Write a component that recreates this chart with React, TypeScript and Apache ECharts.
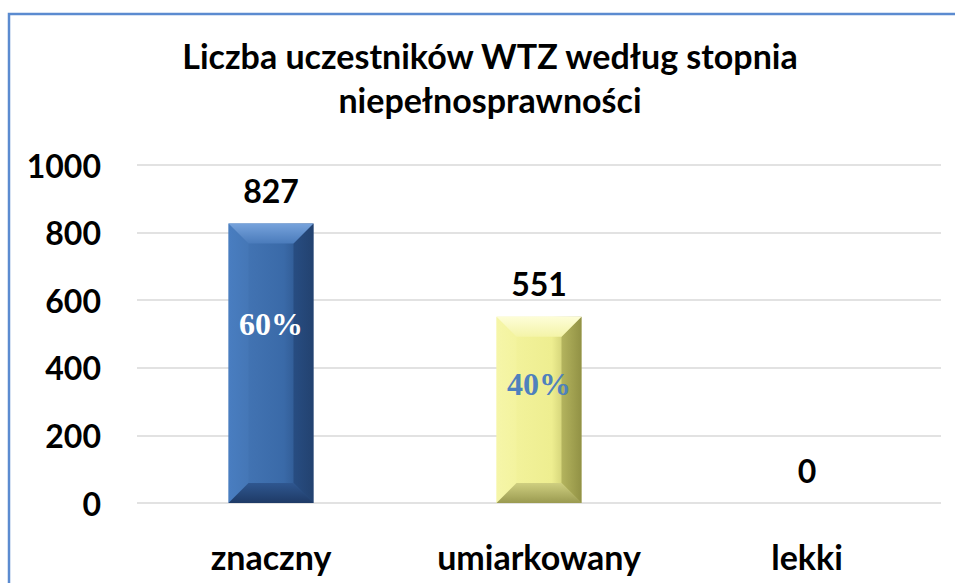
import React, { useEffect, useRef } from "react";
import * as echarts from "echarts";

const categories = ["znaczny", "umiarkowany", "lekki"];
const values = [827, 551, 0];
const yTicks = [0, 200, 400, 600, 800, 1000];
const titleLines = ["Liczba uczestników WTZ według stopnia", "niepełnosprawności"];

const palettes = [
  { main: ["#4678b8", "#3a6aa8", "#24477a"], top: ["#77a3dc", "#4a7bbb"], bottom: ["#2f5790", "#1e3a66"], left: "#4a80c4", right: "#22406c", pct: "#ffffff" },
  { main: ["#f4f4a0", "#eeee90", "#a8a854"], top: ["#fdfdd8", "#f4f4a8"], bottom: ["#cfcf80", "#9a9a50"], left: "#f6f6ac", right: "#8a8a40", pct: "#4f81bd" },
  { main: ["#cccccc", "#bbbbbb", "#888888"], top: ["#eeeeee", "#cccccc"], bottom: ["#999999", "#777777"], left: "#cccccc", right: "#777777", pct: "#ffffff" },
];

const FONT = "Lato, 'Open Sans', sans-serif";

export default function App() {
  const ref = useRef<HTMLDivElement>(null);
  useEffect(() => {
    if (!ref.current) return;
    const chart = echarts.init(ref.current, null, { renderer: "svg" });
    const total = values.reduce((a, b) => a + b, 0);
    const lin = (c0: string, c1: string, horiz: boolean) =>
      new echarts.graphic.LinearGradient(0, 0, horiz ? 1 : 0, horiz ? 0 : 1, [
        { offset: 0, color: c0 },
        { offset: 1, color: c1 },
      ]);
    const renderItem = (params: any, api: any) => {
      const idx = params.dataIndex;
      const v = api.value(1);
      const topPt = api.coord([api.value(0), v]);
      const basePt = api.coord([api.value(0), 0]);
      const w = api.size([1, 0])[0] * 0.317;
      const x0 = topPt[0] - w / 2;
      const x1 = topPt[0] + w / 2;
      const y0 = topPt[1];
      const y1 = basePt[1];
      const h = y1 - y0;
      const p = palettes[idx % palettes.length];
      const children: any[] = [];
      if (h > 0.5) {
        const b = Math.min(20, h / 2, w / 2);
        children.push({
          type: "rect",
          shape: { x: x0, y: y0, width: w, height: h },
          style: {
            fill: new echarts.graphic.LinearGradient(0, 0, 1, 0, [
              { offset: 0, color: p.main[0] },
              { offset: 0.65, color: p.main[1] },
              { offset: 1, color: p.main[2] },
            ]),
          },
        });
        children.push({
          type: "polygon",
          shape: { points: [[x0, y0], [x0 + b, y0 + b], [x0 + b, y1 - b], [x0, y1]] },
          style: { fill: lin(p.left, p.main[0], true), opacity: 0.7 },
        });
        children.push({
          type: "polygon",
          shape: { points: [[x1, y0], [x1 - b, y0 + b], [x1 - b, y1 - b], [x1, y1]] },
          style: { fill: lin(p.main[2], p.right, true), opacity: 0.75 },
        });
        children.push({
          type: "polygon",
          shape: { points: [[x0, y0], [x1, y0], [x1 - b, y0 + b], [x0 + b, y0 + b]] },
          style: { fill: lin(p.top[0], p.top[1], false) },
        });
        children.push({
          type: "polygon",
          shape: { points: [[x0, y1], [x1, y1], [x1 - b, y1 - b], [x0 + b, y1 - b]] },
          style: { fill: lin(p.bottom[0], p.bottom[1], false) },
        });
        const pct = Math.round((v / total) * 100) + "%";
        children.push({
          type: "text",
          style: {
            x: topPt[0],
            y: y1 - h * 0.64,
            text: pct,
            fill: p.pct,
            font: "bold 32px 'Liberation Serif', 'Times New Roman', serif",
            align: "center",
            verticalAlign: "middle",
          },
        });
      }
      children.push({
        type: "text",
        style: {
          x: topPt[0],
          y: y0 - 33,
          text: String(v),
          fill: "#000000",
          font: `bold 32px ${FONT}`,
          align: "center",
          verticalAlign: "middle",
        },
      });
      return { type: "group", children };
    };

    chart.setOption({
      animation: false,
      backgroundColor: "#ffffff",
      grid: { left: 137, right: 14, top: 165, bottom: 80, containLabel: false },
      xAxis: {
        type: "category",
        data: categories,
        axisLine: { show: false },
        axisTick: { show: false },
        axisLabel: { color: "#000", fontFamily: FONT, fontWeight: "bold", fontSize: 34, margin: 36 },
      },
      yAxis: {
        type: "value",
        min: yTicks[0],
        max: yTicks[yTicks.length - 1],
        interval: yTicks[1] - yTicks[0],
        axisLine: { show: false },
        axisTick: { show: false },
        splitLine: { lineStyle: { color: "#d9d9d9", width: 1.5 } },
        axisLabel: {
          color: "#000",
          fontFamily: FONT,
          fontWeight: "bold",
          fontSize: 32,
          margin: 36,
          formatter: (val: number) => String(val),
        },
      },
      series: [
        {
          type: "custom",
          renderItem,
          data: values.map((v, i) => [i, v]),
          encode: { x: 0, y: 1 },
          clip: false,
        },
      ],
      graphic: [
        {
          type: "rect",
          shape: { x: 9, y: 14, width: 980, height: 620 },
          style: { fill: "none", stroke: "#5b8bd0", lineWidth: 2.5 },
          silent: true,
        },
        {
          type: "text",
          x: 490,
          y: 33,
          style: {
            text: titleLines.join("\n"),
            font: `bold 34px ${FONT}`,
            lineHeight: 44,
            fill: "#000",
            align: "center",
            verticalAlign: "top",
          },
        },
      ],
    });
    return () => chart.dispose();
  }, []);
  return (
    <div
      ref={ref}
      style={{ position: "fixed", left: 0, top: 0, width: 955, height: 583, background: "#fff" }}
    />
  );
}
